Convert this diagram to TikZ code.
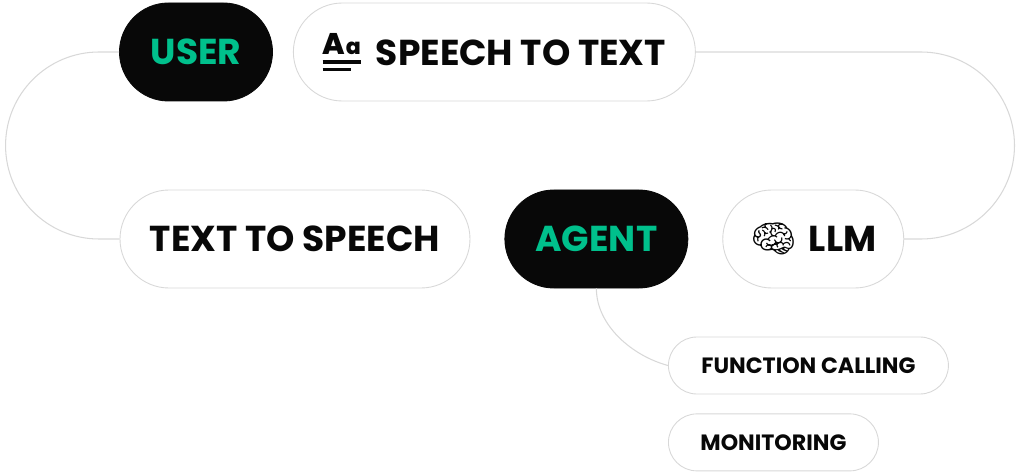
\documentclass[tikz,border=0pt]{standalone}
\usepackage{fontspec}
\setmainfont{Poppins}
\newfontfamily\iconfont{Poppins}[UprightFont=* Medium]
\newfontfamily\emojifont{Noto Emoji}
\usepackage{xcolor}
\usepackage{tikz}
\usetikzlibrary{positioning}
\definecolor{agentgreen}{RGB}{0,192,140}
\definecolor{pillblack}{RGB}{8,8,8}
\definecolor{linegray}{RGB}{216,216,216}
\newsavebox{\aabox}
\newcommand{\aaicon}{\sbox{\aabox}{\iconfont\fontsize{17}{17}\selectfont A\kern0.4pt\fontsize{12.5}{12.5}\selectfont a}%
	\raisebox{-3.4pt}{\vbox{\copy\aabox\kern3.6pt\hrule height 1.8pt width \wd\aabox\kern2.4pt\hrule height 1.8pt width 0.75\wd\aabox}}}

\begin{document}
\begin{tikzpicture}[
		pill/.style={draw=linegray, line width=0.5pt, fill=white, rounded corners=0.98cm, minimum height=1.96cm, inner sep=0pt, text=pillblack, font=\fontsize{20.5}{25}\selectfont\bfseries},
		darkpill/.style={pill, draw=pillblack, fill=pillblack, text=agentgreen},
		smallpill/.style={pill, rounded corners=0.57cm, minimum height=1.14cm, font=\fontsize{12.6}{15}\selectfont\bfseries},
		link/.style={draw=linegray, line width=0.6pt}]
		\useasboundingbox (0,0) rectangle (20.48,9.46);
		% pills
		\node[darkpill, minimum width=3.06cm] (user) at (3.92,8.42) {USER};
		\node[pill, minimum width=8.04cm, right=0.4cm of user] (stt) {\aaicon\hspace{0.3cm}SPEECH TO TEXT};
		\node[pill, minimum width=7.0cm] (tts) at (5.9,4.68) {TEXT TO SPEECH};
		\node[darkpill, minimum width=3.66cm, right=0.68cm of tts] (agent) {AGENT};
		\node[pill, minimum width=3.62cm, right=0.68cm of agent] (llm) {{\emojifont\fontsize{21}{21}\selectfont 🧠}\hspace{0.24cm}LLM};
		\node[smallpill, minimum width=5.6cm, anchor=west] (fcall) at (13.36,2.15) {FUNCTION CALLING};
		\node[smallpill, minimum width=4.2cm, anchor=north west] (monit) at ([yshift=-0.38cm]fcall.south west) {MONITORING};
		% links
		\draw[link] (user.west) -- ++(-0.4,0) arc[start angle=90, end angle=270, radius=1.87cm] -- (tts.west);
		\draw[link] (stt.east) -- (18.42,8.42) arc[start angle=90, end angle=-90, radius=1.87cm] -- (llm.east);
		\draw[link] (agent.south) to[out=-90, in=165, looseness=0.9] (fcall.west);
\end{tikzpicture}
\end{document}
